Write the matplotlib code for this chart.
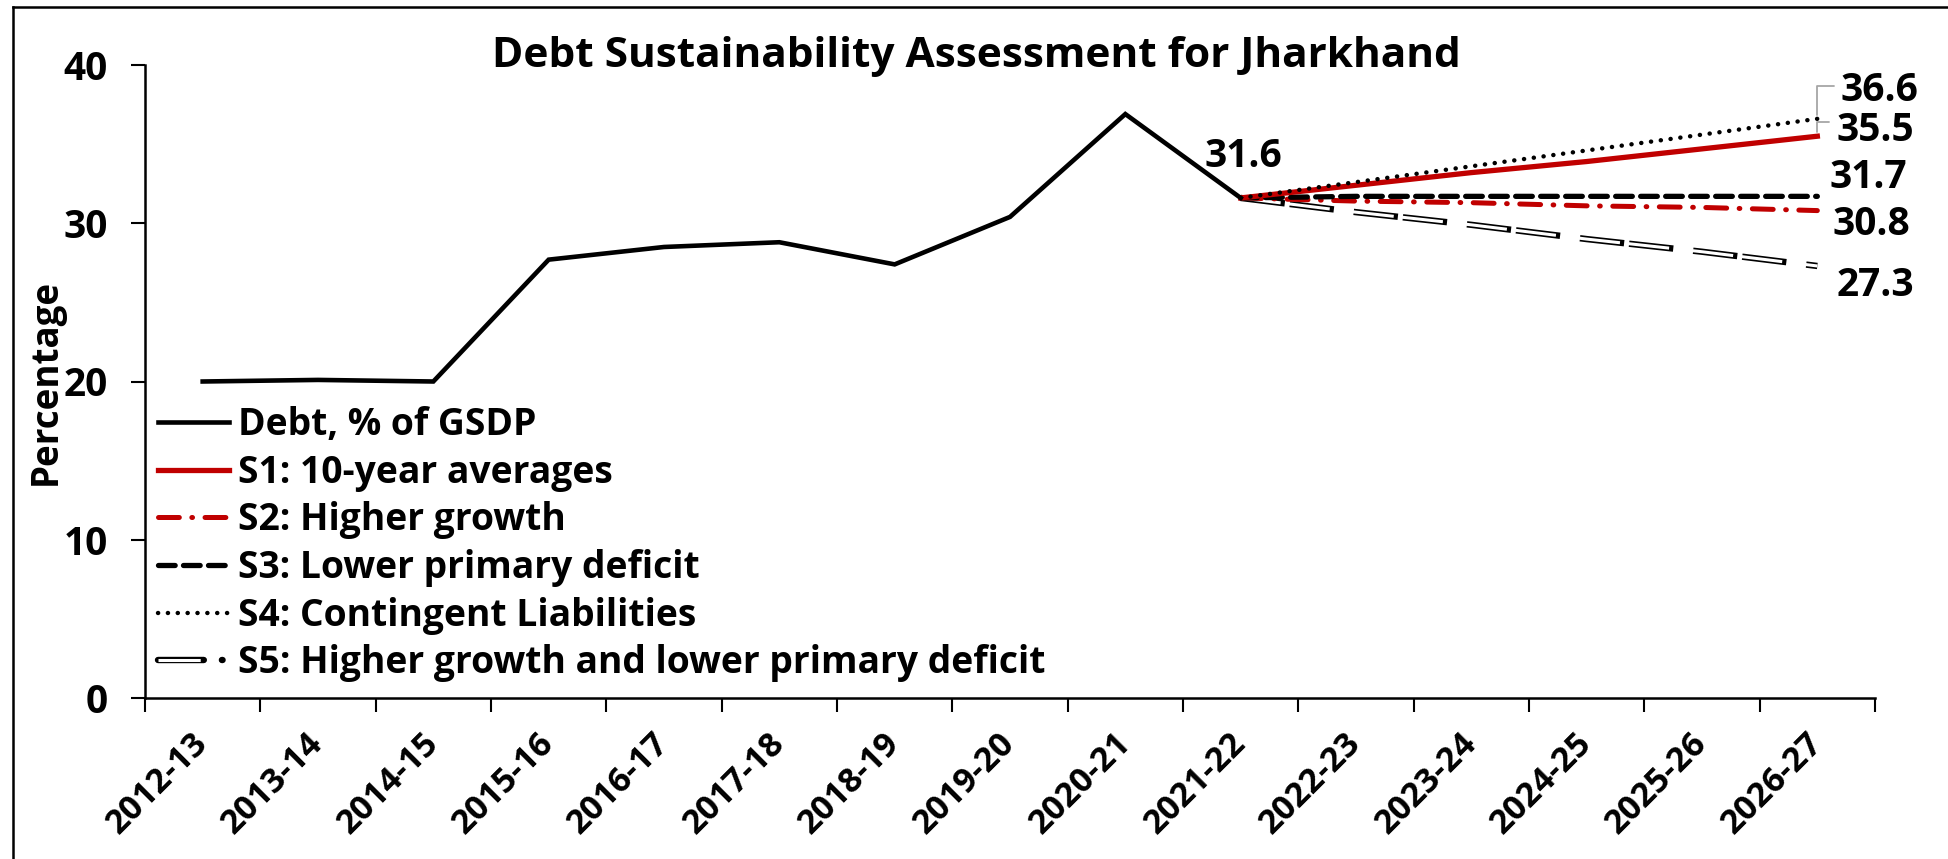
import numpy as np
import matplotlib
matplotlib.use("Agg")
import matplotlib.pyplot as plt
from matplotlib.lines import Line2D
from matplotlib.legend_handler import HandlerTuple

plt.rcParams['font.family'] = ['Open Sans', 'DejaVu Sans']
plt.rcParams['font.weight'] = 'bold'
plt.rcParams['lines.scale_dashes'] = False

years = ["2012-13", "2013-14", "2014-15", "2015-16", "2016-17", "2017-18", "2018-19",
         "2019-20", "2020-21", "2021-22", "2022-23", "2023-24", "2024-25", "2025-26", "2026-27"]
debt = [20.0, 20.1, 20.0, 27.7, 28.5, 28.8, 27.4, 30.4, 36.9, 31.6]
s1 = [31.6, 32.4, 33.2, 33.9, 34.7, 35.5]
s2 = [31.6, 31.4, 31.3, 31.1, 31.0, 30.8]
s3 = [31.6, 31.7, 31.7, 31.7, 31.7, 31.7]
s4 = [31.6, 32.6, 33.6, 34.6, 35.6, 36.6]
s5 = [31.6, 30.7, 29.9, 29.0, 28.2, 27.3]

W, H = 1949, 859
fig = plt.figure(figsize=(W / 100, H / 100), dpi=100)
ax = fig.add_axes([145 / W, 1 - 698 / H, (1875 - 145) / W, (698 - 65) / H])

x_hist = np.arange(len(debt))
x_proj = np.arange(len(debt) - 1, len(years))

red = '#C00000'
ld, = ax.plot(x_hist, debt, color='black', lw=3.3, solid_joinstyle='miter', zorder=5)
l5o, = ax.plot(x_proj, s5, color='black', lw=4.6, linestyle=(0, (32, 3.6, 32, 14.4)), zorder=2)
l5i, = ax.plot(x_proj, s5, color='white', lw=2.2, linestyle=(83, (30, 5.6, 30, 16.4)), zorder=2.1)
l3, = ax.plot(x_proj, s3, color='black', lw=3.8, linestyle=(0, (12, 6)), dash_capstyle='round', zorder=3)
l2, = ax.plot(x_proj, s2, color=red, lw=3.6, linestyle=(0, (15, 9, 0.5, 9)), dash_capstyle='round', zorder=2.5)
l1, = ax.plot(x_proj, s1, color=red, lw=3.8, zorder=4)
l4, = ax.plot(x_proj, s4, color='black', lw=3.2, linestyle=(0, (0.1, 7)), dash_capstyle='round', zorder=4)

ax.set_xlim(-0.5, len(years) - 0.5)
ax.set_ylim(0, 40)
ax.set_yticks([0, 10, 20, 30, 40])
ax.set_yticklabels(['0', '10', '20', '30', '40'], fontsize=28, fontweight='bold')
ax.tick_params(axis='y', length=10, width=1.5, direction='out', pad=17)

ax.set_xticks(np.arange(len(years)))
ax.set_xticklabels(years, rotation=45, ha='right', va='center', rotation_mode='anchor',
                   fontsize=24.5, fontweight='bold')
ax.tick_params(axis='x', which='major', length=0, pad=29)
ax.set_xticks(np.arange(len(years) + 1) - 0.5, minor=True)
ax.tick_params(axis='x', which='minor', length=10, width=1.5, direction='out')

for s in ['top', 'right']:
    ax.spines[s].set_visible(False)
for s in ['left', 'bottom']:
    ax.spines[s].set_linewidth(1.8)

fig.text(46 / W, 1 - 382 / H, 'Percentage', rotation=90, ha='center', va='center',
         fontsize=26.5, fontweight='bold')

fig.text(976 / W, 1 - 67 / H, 'Debt Sustainability Assessment for Jharkhand',
         ha='center', va='baseline', fontsize=30.5, fontweight='bold')

# value labels
ax.annotate(f'{debt[-1]:.1f}', (x_hist[-1], debt[-1]), xytext=(2, 30), textcoords='offset points',
            ha='center', va='center', fontsize=28, fontweight='bold')
xe = x_proj[-1]
lab_offsets = [(s4[-1], 17, 20.6), (s1[-1], 14, 4.3), (s3[-1], 9, 13.7),
               (s2[-1], 11, -9.7), (s5[-1], 13.5, -14.4)]
for val, dx, dy in lab_offsets:
    ax.annotate(f'{val:.1f}', (xe, val), xytext=(dx, dy), textcoords='offset points',
                ha='left', va='center', fontsize=28, fontweight='bold')
# leader lines
for val, tx, ty in [(s4[-1], 12, 23.5), (s1[-1], 8.6, 10)]:
    ax.annotate('', (xe, val), xytext=(tx, ty), textcoords='offset points',
                arrowprops=dict(arrowstyle='-', color='#A6A6A6', lw=1.3,
                                connectionstyle='angle,angleA=0,angleB=90,rad=0',
                                shrinkA=0, shrinkB=3))

# legend proxy for the double-line series
p5o = Line2D([], [], color='black', lw=4.6, linestyle=(0, (33, 13, 0.5, 100)), dash_capstyle='round')
p5i = Line2D([], [], color='white', lw=2.2, linestyle=(132.4, (31.4, 100)))

handles = [ld, l1, l2, l3, l4, (p5o, p5i)]
labels = ['Debt, % of GSDP', 'S1: 10-year averages', 'S2: Higher growth',
          'S3: Lower primary deficit', 'S4: Contingent Liabilities',
          'S5: Higher growth and lower primary deficit']
leg = ax.legend(handles, labels, loc='upper left', bbox_to_anchor=(158 / W, 1 - 406 / H),
                bbox_transform=fig.transFigure, frameon=False, fontsize=26.8,
                handlelength=1.9, handletextpad=0.25, labelspacing=0.26, borderpad=0,
                borderaxespad=0, handler_map={tuple: HandlerTuple(ndivide=1, pad=0)})
for t in leg.get_texts():
    t.set_fontweight('bold')

# outer border (top and left only visible)
fig.add_artist(Line2D([13 / W, 13 / W], [0, 1 - 7 / H], color='black', lw=1.8, transform=fig.transFigure))
fig.add_artist(Line2D([13 / W, 1], [1 - 7 / H, 1 - 7 / H], color='black', lw=1.8, transform=fig.transFigure))

fig.savefig('out.png', dpi=100)
